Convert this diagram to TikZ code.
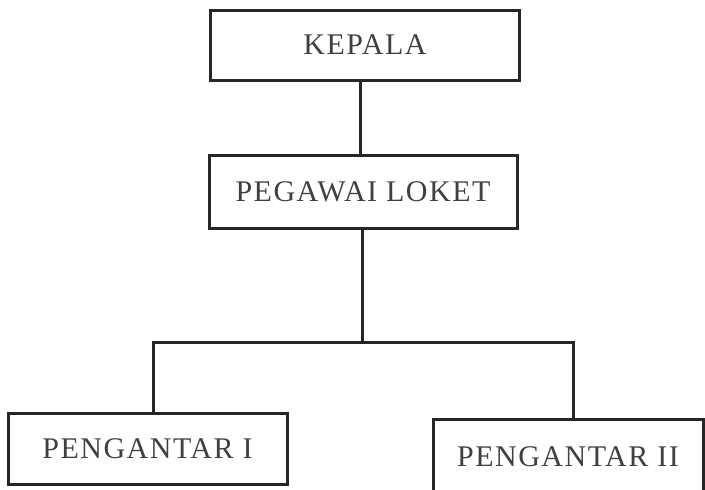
\documentclass[tikz,border=0pt]{standalone}
\usepackage{fontspec}
\setmainfont{Liberation Serif}[LetterSpace=5]
\begin{document}
\begin{tikzpicture}[x=1pt,y=-1pt,
  box/.style={draw=black!85,line width=3pt,inner sep=0pt,font=\fontsize{30}{30}\selectfont,text=black!75},
  conn/.style={draw=black!85,line width=3pt}]
\useasboundingbox (0,0) rectangle (705,490);
\begin{scope}
\clip (0,0) rectangle (705,490);
\node[box,minimum width=309pt,minimum height=70pt] (kepala) at (365,45) {KEPALA};
\node[box,minimum width=308pt,minimum height=73pt] (pegawai) at (363,191.5) {PEGAWAI LOKET};
\node[box,minimum width=279pt,minimum height=71pt] (p1) at (147.5,449) {PENGANTAR I};
\node[box,minimum width=270pt,minimum height=76pt] (p2) at (568,457) {PENGANTAR II};
\coordinate (j) at (362,342);
\coordinate (l) at (153,342);
\coordinate (r) at (573,342);
\draw[conn] (kepala.south -| 360,0) -- (pegawai.north -| 360,0);
\draw[conn] (pegawai.south -| j) -- (j);
\draw[conn,line join=miter] (l |- p1.north) -- (l) -- (r) -- (r |- p2.north);
\end{scope}
\end{tikzpicture}
\end{document}
